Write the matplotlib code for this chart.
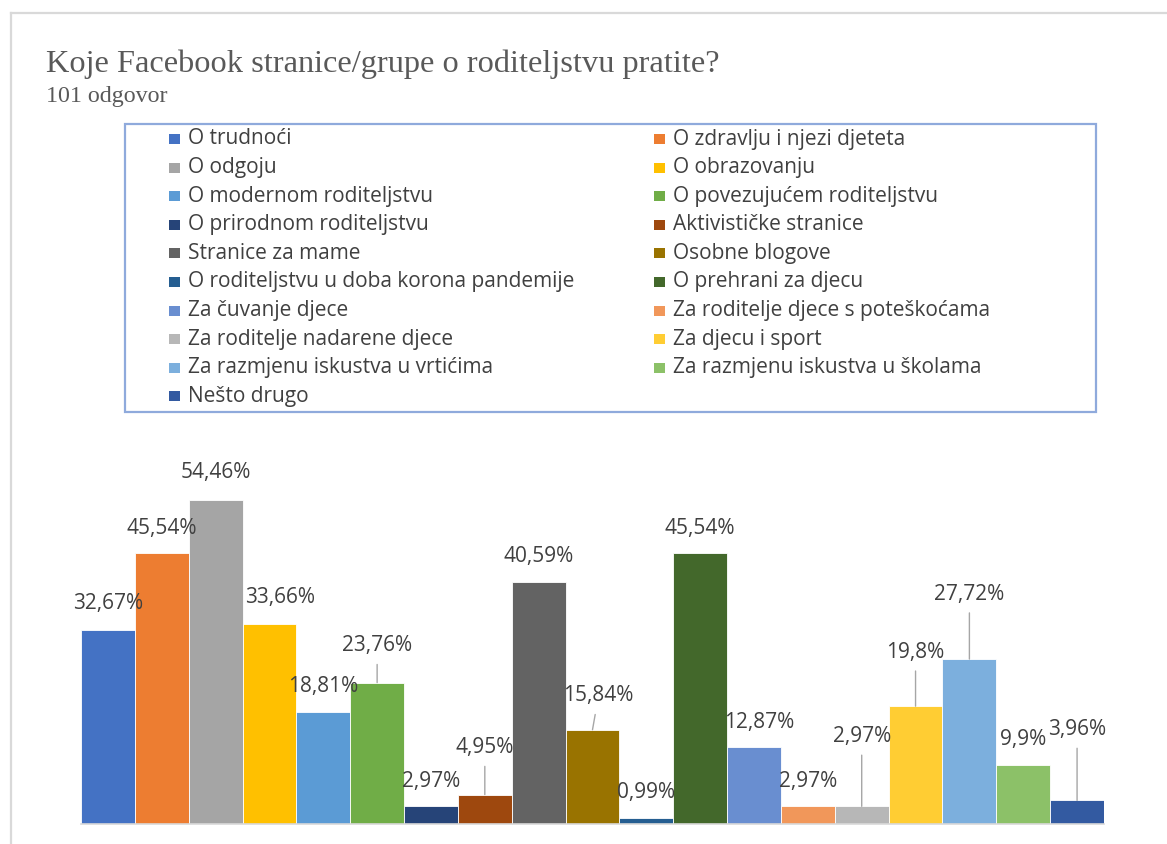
import matplotlib
matplotlib.use("Agg")
import matplotlib.pyplot as plt
from matplotlib.patches import Rectangle
from matplotlib.lines import Line2D

# ---------------- data ----------------
categories = [
    "O trudnoći", "O zdravlju i njezi djeteta", "O odgoju", "O obrazovanju",
    "O modernom roditeljstvu", "O povezujućem roditeljstvu", "O prirodnom roditeljstvu",
    "Aktivističke stranice", "Stranice za mame", "Osobne blogove",
    "O roditeljstvu u doba korona pandemije", "O prehrani za djecu", "Za čuvanje djece",
    "Za roditelje djece s poteškoćama", "Za roditelje nadarene djece", "Za djecu i sport",
    "Za razmjenu iskustva u vrtićima", "Za razmjenu iskustva u školama", "Nešto drugo",
]
values = [32.67, 45.54, 54.46, 33.66, 18.81, 23.76, 2.97, 4.95, 40.59, 15.84,
          0.99, 45.54, 12.87, 2.97, 2.97, 19.8, 27.72, 9.9, 3.96]
value_labels = ["32,67%", "45,54%", "54,46%", "33,66%", "18,81%", "23,76%", "2,97%",
                "4,95%", "40,59%", "15,84%", "0,99%", "45,54%", "12,87%", "2,97%",
                "2,97%", "19,8%", "27,72%", "9,9%", "3,96%"]
colors = ["#4472C4", "#ED7D31", "#A5A5A5", "#FFC000", "#5B9BD5", "#70AD47", "#264478",
          "#9E480E", "#636363", "#997300", "#255E91", "#43682B", "#698ED0", "#F1975A",
          "#B7B7B7", "#FFCD33", "#7CAFDD", "#8CC168", "#335AA1"]
title = "Koje Facebook stranice/grupe o roditeljstvu pratite?"
subtitle = "101 odgovor"

# label placement (pixels): offset of label centre from bar top, and leader flag
label_dy = [26, 25, 27, 26, 26, 37, 25, 47, 26, 34, 26, 25, 25, 25, 70, 54, 65, 26, 71]
label_dx = [0, 0, 0, 11, 0, 0, 0, 0, 0, 6, 0, 0, 5, 0, 0, 0, 0, 0, 0]
leader = [False, False, False, False, False, True, False, True, False, True,
          False, False, False, False, True, True, True, False, True]

# ---------------- figure ----------------
W, H = 1167, 844
DPI = 100
fig = plt.figure(figsize=(W / DPI, H / DPI), dpi=DPI)
fig.patch.set_facecolor("white")

def fx(x):
    return x / W

def fy(y):
    return 1 - y / H

SANS = ["Open Sans", "DejaVu Sans"]
TXT = "#404040"

# outer frame lines (top and left)
fig.add_artist(Line2D([fx(11), 1], [fy(13), fy(13)], color="#d9d9d9", lw=1.6))
fig.add_artist(Line2D([fx(11), fx(11)], [fy(13), 0], color="#d9d9d9", lw=1.6))

# title
fig.text(fx(46), fy(72), title, family=["Liberation Serif"], fontsize=23.3,
         color="#595959", va="baseline", ha="left")
fig.text(fx(46), fy(102), subtitle, family=["Liberation Serif"], fontsize=17.3,
         color="#595959", va="baseline", ha="left")

# legend box (drawn manually, row-wise in two columns)
box = Rectangle((fx(125), fy(412)), fx(1096) - fx(125), fy(124) - fy(412),
                transform=fig.transFigure, facecolor="none", edgecolor="#8FAADC", lw=1.6)
fig.add_artist(box)
col_marker_x = [169, 654]
col_text_x = [188, 673]
row_y0, row_step = 139, 28.6
for i, (lab, col) in enumerate(zip(categories, colors)):
    r, c = divmod(i, 2)
    y = row_y0 + r * row_step
    mk = Rectangle((fx(col_marker_x[c]), fy(y + 5)), fx(11), 10 / H,
                   transform=fig.transFigure, facecolor=col, edgecolor="none")
    fig.add_artist(mk)
    fig.text(fx(col_text_x[c]), fy(y), lab, family=SANS, fontsize=15,
             color=TXT, va="center", ha="left")

# bars
ax = fig.add_axes([fx(81), 20 / H, (1104 - 81) / W, 357 / H])
x = list(range(len(values)))
ax.bar(x, values, width=1.0, color=colors, edgecolor="white", linewidth=0.6)
ax.set_xlim(-0.5, len(values) - 0.5)
ax.set_ylim(0, 60)
for s in ["top", "left", "right"]:
    ax.spines[s].set_visible(False)
ax.spines["bottom"].set_color("#d9d9d9")
ax.spines["bottom"].set_linewidth(1.2)
ax.set_xticks([])
ax.set_yticks([])
ax.patch.set_alpha(0)

PT = 72 / DPI
for i, (v, lab) in enumerate(zip(values, value_labels)):
    kw = {}
    if leader[i]:
        kw["arrowprops"] = dict(arrowstyle="-", color="#a6a6a6", lw=1.0,
                                shrinkA=4, shrinkB=0)
    ax.annotate(lab, xy=(i, v), xytext=(label_dx[i] * PT, label_dy[i] * PT),
                textcoords="offset points", ha="center", va="center",
                family=SANS, fontsize=15, color=TXT, annotation_clip=False, **kw)

fig.savefig("out.png", dpi=DPI, facecolor="white")
